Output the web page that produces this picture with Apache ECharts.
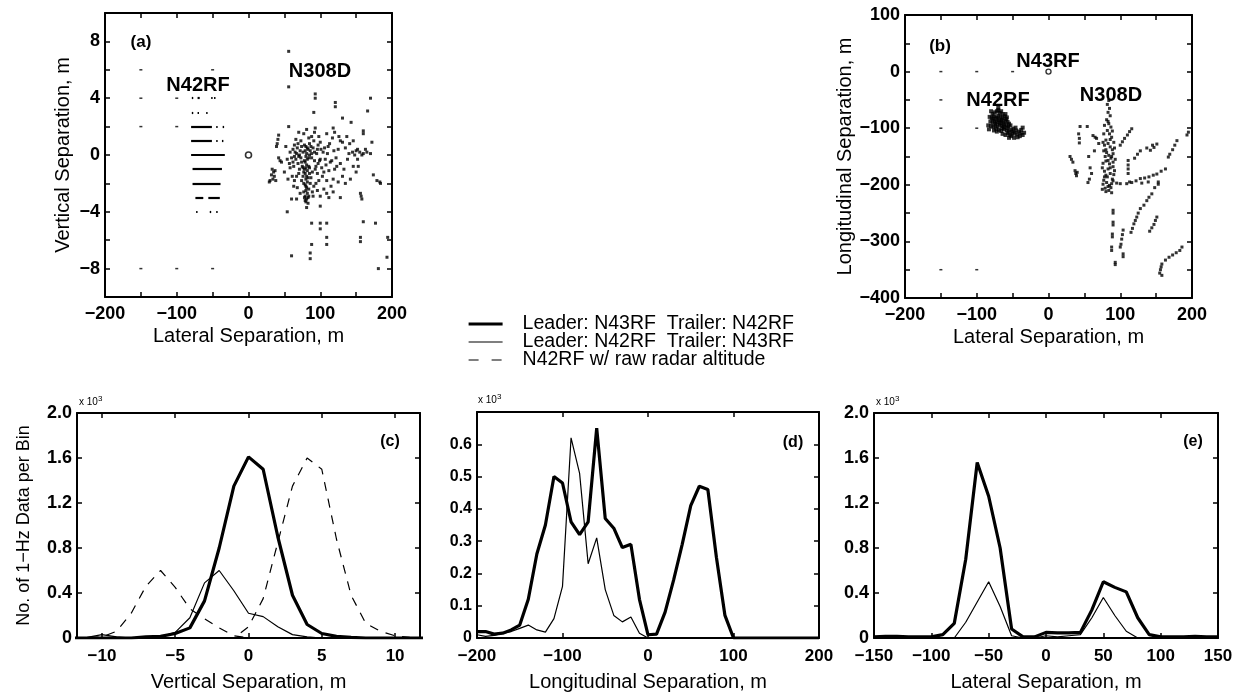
<!DOCTYPE html>
<html>
<head>
<meta charset="utf-8">
<script src="https://cdn.jsdelivr.net/npm/echarts@6/dist/echarts.min.js"></script>
<style>
html,body{margin:0;padding:0;background:#fff;}
#chart{width:1241px;height:693px;}
</style>
</head>
<body>
<div id="chart"></div>
<script>
// ---------------- DATA ----------------
const legendNames = ['Leader: N43RF  Trailer: N42RF', 'Leader: N42RF  Trailer: N43RF', 'N42RF w/ raw radar altitude'];

// Panel (a): lateral (x) vs vertical (y) separation, m
const n308dA = [
 [56,7.3],[56,4.8],[93,4.3],[93,4.0],[121,3.7],[121,3.4],[170,4.0],[166,3.1],[91,3.0],[131,2.6],[143,2.3],[56,2.0],
 [81,1.8],[93,1.9],[92,1.6],[118,1.9],[120,1.6],[160,1.7],[160,1.5],[42,1.4],[41,1.1],[40,0.8],[39,0.6],
 [77,1.5],[88,1.3],[109,1.5],[126,1.3],[137,1.3],[128,1.0],[131,0.9],[172,0.9],[100,0.9],[106,0.5],
 [140,0.1],[145,0.2],[150,0.3],[155,0.2],[160,0.1],[165,0.2],[170,0.1],[148,0.0],[158,0.0],[152,0.4],[163,0.4],
 [42,-0.2],[46,-0.5],[44,-0.4],
 [33,-1.0],[35,-1.2],[36,-1.5],[38,-1.8],[30,-1.8],[32,-1.4],[34,-1.7],[29,-1.9],[37,-1.1],
 [50,-1.2],[55,-1.7],[63,-0.8],[61,-1.5],[63,-2.2],[58,-0.9],
 [100,-0.3],[114,-0.5],[123,-0.8],[133,-1.0],[146,-0.8],[153,-0.8],[131,-1.5],[142,-1.7],[150,-1.2],
 [174,-1.4],[179,-1.8],[184,-2.0],[183,-1.9],
 [109,-1.8],[118,-1.7],[91,-2.2],[109,-2.7],[112,-3.0],[100,-2.9],[128,-3.0],[156,-2.7],[158,-3.1],[157,-2.9],
 [60,-3.1],[67,-3.1],[79,-3.2],[81,-3.7],[100,-3.6],[54,-4.0],
 [88,-4.8],[100,-4.8],[100,-5.2],[109,-4.8],[160,-4.7],[177,-4.8],[109,-5.8],[109,-6.3],[156,-5.8],[156,-6.1],[194,-5.8],
 [88,-6.3],[60,-7.1],[86,-6.9],[86,-7.3],[193,-7.2],[181,-8.0],
 [80,0.6],[82,0.5],[79,0.3],[81,0.1],[80,-0.1],[82,-0.3],[79,-0.5],[81,-0.7],[80,-0.9],[82,-1.1],[79,-1.3],[81,-1.5],
 [80,-1.7],[82,-1.9],[79,-2.1],[81,-2.3],[80,-2.5],[82,-2.7],[79,-2.9],[81,-3.1],[78,-1.0],[84,-0.2],[77,-2.0],[84,-2.4],
 [78,-0.4],[83,-1.6],[77,-1.2],[84,-0.8],[80,-3.3],[83,-3.0],
 [62,0.4],[65,0.2],[68,0.5],[70,-0.1],[72,0.3],[74,0.6],[66,-0.3],[69,-0.6],[73,-0.2],[75,-0.8],[71,0.0],[64,-0.1],
 [67,0.1],[86,0.3],[88,-0.2],[90,0.5],[92,-0.4],[95,0.1],[97,-0.6],[85,-0.9],[89,-1.2],[93,-1.0],[96,-1.3],[99,-0.4],
 [102,-0.9],[104,0.2],[107,-0.3],[110,0.1],[112,-1.1],[116,-0.4],[119,0.3],[122,-0.2],[125,0.4],[103,-1.5],[98,-1.8],
 [87,-1.6],[94,-2.0],[70,-1.3],[74,-1.8],[67,-1.5],[62,-0.5],[58,0.2],[54,-0.3],[52,0.6],[85,0.8],[91,1.0],[73,1.0],
 [66,1.1],[96,0.4],[113,0.8],[117,1.2],[135,0.5],[138,-0.3],[128,-0.6],[120,-1.0],[115,-2.2],[125,-1.9],[105,-2.4],
 [89,-2.6],[72,-2.7],[68,-2.3],
 [76,0.2],[78,0.7],[83,0.4],[85,0.0],[87,0.6],[74,-0.5],[76,-1.5],[85,-1.3],[86,-2.0],[77,-2.6],[84,-2.9],[78,-3.0],
 [83,-3.4],[80,-2.2],[76,-0.9],[88,0.1],[92,0.2],[94,-0.8],[97,0.7],[101,0.4],[64,0.7],[60,-0.2],[57,-0.6],[69,0.8],
 [71,-1.0],[105,-1.2],[108,-0.7],[111,0.6],[98,1.3],[84,1.2],[70,1.6],[64,-1.8],[90,-2.9],[96,-2.5],[118,-2.6],
 [135,-2.0],[141,0.8],[146,1.0],[152,-0.3]
];
// N42RF rows in (a): [vertical level, x start, x end]
const n42rfRowsA = [
 [4,-79,-77],[4,-71,-68],[4,-52,-50],[4,-48,-46],
 [3,-79,-77],[3,-71,-69],[3,-59,-57],
 [2,-80,-51],[2,-45,-43],[2,-36,-34],
 [1,-80,-51],[1,-45,-43],[1,-37,-35],
 [0,-80,-33],
 [-1,-78,-37],
 [-2,-78,-39],
 [-3,-74,-63],[-3,-56,-40],
 [-4,-73,-71],[-4,-54,-52],[-4,-45,-43]
];
const strayDotsA = [[-150,6],[-50,6],[-150,4],[-100,4],[-150,2],[-100,2],[-150,-8],[-100,-8],[-50,-8]];
const leaderPos = [[0,0]];

// Panel (b): lateral (x) vs longitudinal (y) separation, m
const n42rfB = [
 [-80,-70],[-78,-75],[-75,-72],[-72,-70],[-70,-68],[-68,-73],[-66,-70],[-64,-75],
 [-82,-80],[-79,-82],[-76,-79],[-73,-81],[-70,-78],[-67,-80],[-64,-82],[-61,-79],[-58,-81],
 [-81,-88],[-78,-90],[-75,-87],[-72,-89],[-69,-86],[-66,-88],[-63,-90],[-60,-87],[-57,-89],
 [-80,-96],[-77,-98],[-74,-95],[-71,-97],[-68,-94],[-65,-96],[-62,-98],[-59,-95],[-56,-97],[-53,-95],
 [-76,-104],[-72,-106],[-69,-103],[-66,-105],[-62,-102],[-58,-104],[-55,-106],[-52,-103],[-49,-101],[-46,-99],
 [-64,-110],[-60,-112],[-57,-109],[-54,-112],[-50,-110],[-47,-108],[-44,-111],[-41,-106],[-38,-103],[-36,-99],
 [-55,-117],[-48,-117],[-43,-116],[-40,-114],[-36,-112],[-34,-108],
 [-84,-95],[-83,-102],[-70,-64],[-60,-75],
 [-77,-84],[-71,-83],[-65,-85],[-59,-84],[-74,-92],[-68,-91],[-62,-93],[-55,-92],[-73,-101],[-64,-100],[-57,-100],
 [-50,-106],[-45,-104],[-39,-109],[-52,-114]
];
const n308dB = [
 [84,-51],[82,-58],[85,-65],[83,-72],[86,-78],[81,-85],[84,-92],[87,-98],[82,-104],[85,-110],[88,-116],[80,-121],
 [83,-127],[86,-133],[89,-138],[81,-143],[84,-148],[87,-153],[80,-158],[85,-163],[90,-168],[83,-172],[78,-176],
 [86,-180],[82,-186],[77,-192],[81,-196],[85,-201],[79,-206],[84,-210],[88,-214],[76,-199],[90,-160],[78,-130],
 [91,-125],[77,-110],[90,-145],[79,-150],[75,-170],[92,-175],
 [44,-97],[54,-97],[42,-110],[43,-118],[43,-126],[62,-113],[65,-116],[67,-118],[70,-127],[30,-150],[32,-155],
 [34,-160],[37,-175],[38,-180],[39,-184],[58,-170],[60,-180],[57,-190],[55,-196],[40,-178],[56,-150],[64,-140],
 [116,-101],[113,-106],[110,-112],[106,-118],[103,-124],[100,-130],
 [111,-157],[111,-165],[111,-172],[111,-180],
 [120,-153],[124,-146],[128,-140],[137,-135],[145,-130],
 [151,-128],[147,-134],[142,-139],
 [179,-122],[176,-130],[173,-138],[169,-146],[167,-151],
 [195,-107],[193,-112],
 [163,-172],[157,-176],[151,-181],[146,-183],[140,-186],[134,-188],[128,-189],[122,-193],[116,-196],[109,-198],
 [100,-198],[95,-197],
 [153,-195],[148,-205],[144,-216],[140,-222],[137,-228],[133,-236],[128,-242],[125,-250],[123,-257],[121,-263],
 [119,-269],[117,-277],[115,-284],
 [90,-245],[90,-250],[90,-266],[90,-271],[89,-287],[89,-292],[88,-310],[88,-316],[93,-337],[93,-341],
 [104,-280],[103,-288],[102,-296],[101,-305],[100,-310],[104,-322],[104,-327],
 [151,-257],[149,-263],[147,-270],[144,-276],[141,-282],
 [183,-316],[178,-320],[173,-324],[168,-328],[163,-333],[158,-340],[157,-345],[156,-350],[155,-356],[158,-360],
 [186,-310],[113,-195],[130,-197],[139,-195],[153,-199],[90,-193],
 [83,-88],[86,-120],[80,-138],[88,-150],[83,-157],[86,-170],[80,-183],[89,-190],[83,-203],[80,-212],[87,-205],
 [78,-95],[89,-105],[76,-125],[92,-135],[77,-140],[93,-155],[76,-162],[91,-182],[78,-186],[88,-198],[75,-208]
];
const strayDotsB = [[-150,0],[-100,0],[-50,0],[-150,-50],[-150,-100],[-100,-100],[-150,-350],[-100,-350]];

// Panel (c): vertical separation histogram (x 10^3)
const binsC = [-12,-11,-10,-9,-8,-7,-6,-5,-4,-3,-2,-1,0,1,2,3,4,5,6,7,8,9,10,11,12];
const thickC = [0,0,0,0,0,0.01,0.015,0.04,0.09,0.33,0.8,1.35,1.61,1.5,0.9,0.38,0.12,0.04,0.015,0.005,0,0,0,0,0];
const thinC  = [0,0.005,0.03,0.01,0,0.005,0.01,0.05,0.18,0.49,0.6,0.42,0.22,0.19,0.1,0.03,0.01,0,0,0,0,0,0,0,0];
const rawLeftC  = [0,0.005,0.01,0.06,0.22,0.46,0.6,0.45,0.26,0.17,0.09,0.02,0,0,0,0,0,0,0,0,0,0,0,0,0];
const rawRightC = [0,0,0,0,0,0,0,0,0,0,0,0,0.1,0.35,0.85,1.35,1.6,1.5,0.88,0.38,0.13,0.06,0.02,0.005,0];

// Panel (d): longitudinal separation histogram (x 10^3)
const binsD = [-200,-190,-180,-170,-160,-150,-140,-130,-120,-110,-100,-90,-80,-70,-60,-50,-40,-30,-20,-10,0,
               10,20,30,40,50,60,70,80,90,100,110,120,130,140,150,160,170,180,190,200];
const thickD = [0.02,0.02,0.012,0.015,0.025,0.04,0.12,0.26,0.35,0.5,0.48,0.36,0.32,0.36,0.65,0.37,0.34,0.28,0.29,0.12,0.01,
                0.012,0.08,0.18,0.29,0.41,0.47,0.46,0.25,0.07,0,0,0,0,0,0,0,0,0,0,0];
const thinD  = [0.01,0.005,0.008,0.015,0.02,0.03,0.04,0.025,0.018,0.06,0.16,0.62,0.51,0.23,0.31,0.15,0.07,0.05,0.065,0.015,0,
                0,0,0,0,0,0,0,0,0,0,0,0,0,0,0,0,0,0,0,0];

// Panel (e): lateral separation histogram (x 10^3)
const binsE = [-150,-140,-130,-120,-110,-100,-90,-80,-70,-60,-50,-40,-30,-20,-10,0,10,20,30,40,50,60,70,80,90,100,110,120,130,140,150];
const thickE = [0.01,0.015,0.015,0.01,0.01,0.01,0.03,0.13,0.7,1.56,1.26,0.8,0.08,0.01,0.01,0.05,0.045,0.045,0.05,0.25,0.5,0.45,0.41,0.18,0.03,0.01,0.01,0.01,0.015,0.01,0.01];
const thinE  = [0,0,0,0,0,0,0,0,0.14,0.32,0.5,0.28,0.02,0,0,0.02,0.01,0.02,0.03,0.18,0.36,0.2,0.06,0,0,0,0,0,0,0,0];

// Tick / label positions
const ticksXab = [-200,-150,-100,-50,0,50,100,150,200];
const labelsXab = [-200,-100,0,100,200];
const ticksYa = [-8,-6,-4,-2,0,2,4,6,8];
const labelsYa = [-8,-4,0,4,8];
const ticksYb = [-400,-350,-300,-250,-200,-150,-100,-50,0,50,100];
const labelsYb = [-400,-300,-200,-100,0,100];
const ticksXc = [-10,-5,0,5,10];
const ticksYce = [0,0.4,0.8,1.2,1.6,2.0];
const ticksXd = [-200,-100,0,100,200];
const ticksYd = [0,0.1,0.2,0.3,0.4,0.5,0.6,0.7];
const labelsYd = [0,0.1,0.2,0.3,0.4,0.5,0.6];
const ticksXe = [-150,-100,-50,0,50,100,150];

// ---------------- CHART ----------------
const FONT = '"Liberation Sans", Arial, Helvetica, sans-serif';
const minus = s => String(s).replace('-', '\u2212');
const fmtInt = v => minus(Math.round(v));
const fmt1 = v => (Math.abs(v) < 1e-9 ? '0' : minus(v.toFixed(1)));

function xAxes(gi, min, max, ticks, labels, fmt, name, nameGap, lsize, lmargin) {
  const line = {show:true, onZero:false, lineStyle:{color:'#000', width:2}};
  const tick = {show:true, inside:true, length:5, customValues:ticks, lineStyle:{color:'#000', width:1.5}};
  return [
    {type:'value', gridIndex:gi, position:'bottom', min, max, name, nameLocation:'middle', nameGap,
     nameTextStyle:{fontFamily:FONT, fontSize:20, color:'#000'},
     axisLine:line, axisTick:tick,
     axisLabel:{show:true, customValues:labels, formatter:fmt, margin:lmargin, fontFamily:FONT, fontSize:lsize, fontWeight:'bold', color:'#000'},
     splitLine:{show:false}},
    {type:'value', gridIndex:gi, position:'top', min, max,
     axisLine:line, axisTick:tick, axisLabel:{show:false}, splitLine:{show:false}}
  ];
}
function yAxes(gi, min, max, ticks, labels, fmt, name, nameGap, lsize, nsize) {
  const line = {show:true, onZero:false, lineStyle:{color:'#000', width:2}};
  const tick = {show:true, inside:true, length:5, customValues:ticks, lineStyle:{color:'#000', width:1.5}};
  return [
    {type:'value', gridIndex:gi, position:'left', min, max, name, nameLocation:'middle', nameGap,
     nameTextStyle:{fontFamily:FONT, fontSize:nsize || 20, color:'#000'},
     axisLine:line, axisTick:tick,
     axisLabel:{show:true, customValues:labels, formatter:fmt, margin:5, fontFamily:FONT, fontSize:lsize, fontWeight:'bold', color:'#000'},
     splitLine:{show:false}},
    {type:'value', gridIndex:gi, position:'right', min, max,
     axisLine:line, axisTick:tick, axisLabel:{show:false}, splitLine:{show:false}}
  ];
}

const pairs = (xs, ys) => xs.map((x, i) => [x, ys[i]]);
const dotStyle = {color:'#000'};

function lineSeries(name, gi, xs, ys, width, dashed) {
  return {type:'line', name, xAxisIndex:gi*2, yAxisIndex:gi*2, data:pairs(xs, ys),
    symbol:'none', showSymbol:false, silent:true, clip:true, color:'#000',
    itemStyle:{color:'#000', opacity:0},
    lineStyle:{color:'#000', width, type: dashed ? [9,8] : 'solid'}, z:3};
}

const series = [
  {type:'scatter', xAxisIndex:0, yAxisIndex:0, data:n308dA, symbol:'rect', symbolSize:3, itemStyle:dotStyle, silent:true},
  {type:'scatter', xAxisIndex:0, yAxisIndex:0, data:strayDotsA, symbol:'rect', symbolSize:[3,1.5], itemStyle:dotStyle, silent:true},
  {type:'lines', coordinateSystem:'cartesian2d', xAxisIndex:0, yAxisIndex:0, silent:true,
   data:n42rfRowsA.map(r => ({coords:[[r[1], r[0]], [r[2], r[0]]]})),
   lineStyle:{color:'#000', width:2.2, opacity:1, curveness:0}},
  {type:'scatter', xAxisIndex:0, yAxisIndex:0, data:leaderPos, symbol:'circle', symbolSize:6,
   itemStyle:{color:'#fff', borderColor:'#000', borderWidth:1.6}, silent:true},

  {type:'scatter', xAxisIndex:2, yAxisIndex:2, data:n42rfB, symbol:'rect', symbolSize:4, itemStyle:dotStyle, silent:true},
  {type:'scatter', xAxisIndex:2, yAxisIndex:2, data:n308dB, symbol:'rect', symbolSize:3, itemStyle:dotStyle, silent:true},
  {type:'scatter', xAxisIndex:2, yAxisIndex:2, data:strayDotsB, symbol:'rect', symbolSize:[3,1.5], itemStyle:dotStyle, silent:true},
  {type:'scatter', xAxisIndex:2, yAxisIndex:2, data:leaderPos, symbol:'circle', symbolSize:5,
   itemStyle:{color:'#fff', borderColor:'#000', borderWidth:1.4}, silent:true},

  lineSeries(legendNames[0], 2, binsC, thickC, 3.2, false),
  lineSeries(legendNames[1], 2, binsC, thinC, 1.2, false),
  lineSeries(legendNames[2], 2, binsC, rawLeftC, 1.2, true),
  lineSeries(legendNames[2], 2, binsC, rawRightC, 1.2, true),
  lineSeries(legendNames[0], 3, binsD, thickD, 3.2, false),
  lineSeries(legendNames[1], 3, binsD, thinD, 1.2, false),
  lineSeries(legendNames[0], 4, binsE, thickE, 3.2, false),
  lineSeries(legendNames[1], 4, binsE, thinE, 1.2, false)
];

const T = (x, y, text, size, weight) => ({type:'text', x, y, silent:true,
  style:{text, fontFamily:FONT, fontSize:size, fontWeight:weight, fill:'#000', align:'center', verticalAlign:'middle'}});
const exp = (x, y) => ({type:'text', x, y, silent:true, style:{
  text:'{a|x 10}{b|3}', align:'left', verticalAlign:'bottom',
  rich:{a:{fontFamily:FONT, fontSize:10, fill:'#000'}, b:{fontFamily:FONT, fontSize:8, fill:'#000', padding:[0,0,7,0]}}}});

const option = {
  animation:false,
  backgroundColor:'#fff',
  color:['#000'],
  grid:[
    {left:105, top:13, width:287, height:284},
    {left:905, top:15, width:287, height:283},
    {left:77, top:413, width:343, height:225},
    {left:477, top:412, width:342, height:226},
    {left:874, top:413, width:344, height:225}
  ],
  xAxis:[
    ...xAxes(0, -200, 200, ticksXab, labelsXab, fmtInt, 'Lateral Separation, m', 29, 18, 8),
    ...xAxes(1, -200, 200, ticksXab, labelsXab, fmtInt, 'Lateral Separation, m', 29, 18, 8),
    ...xAxes(2, -11.7, 11.7, ticksXc, ticksXc, fmtInt, 'Vertical Separation, m', 34, 17, 10),
    ...xAxes(3, -200, 200, ticksXd, ticksXd, fmtInt, 'Longitudinal Separation, m', 34, 17, 10),
    ...xAxes(4, -150, 150, ticksXe, ticksXe, fmtInt, 'Lateral Separation, m', 34, 17, 10)
  ],
  yAxis:[
    ...yAxes(0, -10, 10, ticksYa, labelsYa, fmtInt, 'Vertical Separation, m', 32, 18),
    ...yAxes(1, -400, 100, ticksYb, labelsYb, fmtInt, 'Longitudinal Separation, m', 25, 18),
    ...yAxes(2, 0, 2, ticksYce, ticksYce, fmt1, 'No. of 1\u2212Hz Data per Bin', 44, 18, 18),
    ...yAxes(3, 0, 0.7, ticksYd, labelsYd, fmt1, '', 0, 16),
    ...yAxes(4, 0, 2, ticksYce, ticksYce, fmt1, '', 0, 18)
  ],
  legend:{
    left:462, top:309, orient:'vertical', selectedMode:false,
    itemWidth:34, itemHeight:12, itemGap:-2,
    itemStyle:{opacity:0},
    textStyle:{fontFamily:FONT, fontSize:19.5, color:'#000', lineHeight:17, padding:[0,0,0,15]},
    data:[
      {name:legendNames[0], itemStyle:{opacity:0}, lineStyle:{width:3.2, color:'#000', type:'solid'}},
      {name:legendNames[1], itemStyle:{opacity:0}, lineStyle:{width:1.2, color:'#000', type:'solid'}},
      {name:legendNames[2], itemStyle:{opacity:0}, lineStyle:{width:1.2, color:'#000', type:[10,13]}}
    ]
  },
  graphic:[
    T(141, 42, '(a)', 17, 'bold'),
    T(198, 85, 'N42RF', 20, 'bold'),
    T(320, 71, 'N308D', 20, 'bold'),
    T(940, 46, '(b)', 17, 'bold'),
    T(1048, 61, 'N43RF', 20, 'bold'),
    T(998, 100, 'N42RF', 20, 'bold'),
    T(1111, 95, 'N308D', 20, 'bold'),
    T(390, 442, '(c)', 16, 'bold'),
    T(793, 443, '(d)', 16, 'bold'),
    T(1193, 442, '(e)', 16, 'bold'),
    exp(79, 410),
    exp(478, 408),
    exp(876, 410)
  ],
  series
};

const chart = echarts.init(document.getElementById('chart'), null, {renderer:'canvas'});
chart.setOption(option);
</script>
</body>
</html>
